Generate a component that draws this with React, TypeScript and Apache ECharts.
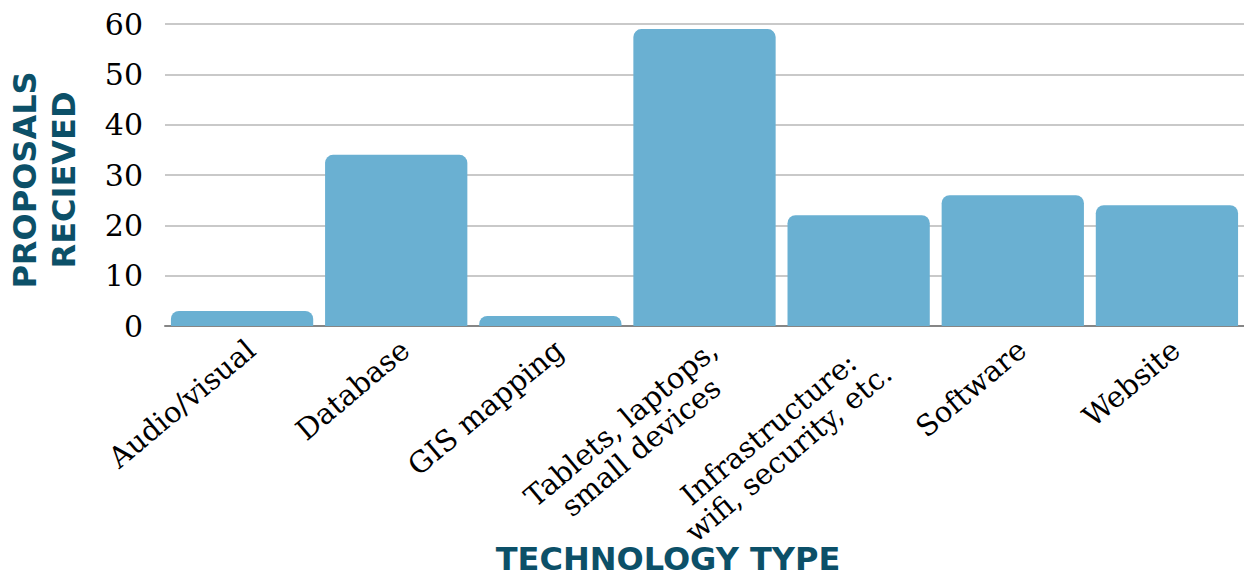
import React, { useEffect, useRef } from "react";
import * as echarts from "echarts";

const categories = [
  "Audio/visual",
  "Database",
  "GIS mapping",
  "Tablets, laptops,\nsmall devices",
  "Infrastructure:\nwifi, security, etc.",
  "Software",
  "Website",
];
const proposals = [3, 34, 2, 59, 22, 26, 24];
const yTitle = "PROPOSALS\nRECIEVED";
const xTitle = "TECHNOLOGY TYPE";

const LABEL_FONT_SIZE = 29;
const LABEL_LINE_HEIGHT = 31;
const LABEL_FONT_FAMILY = "DejaVu Serif";

function measure(text: string): number {
  const c = document.createElement("canvas");
  const ctx = c.getContext("2d");
  if (!ctx) return text.length * LABEL_FONT_SIZE * 0.6;
  ctx.font = `${LABEL_FONT_SIZE}px '${LABEL_FONT_FAMILY}'`;
  return ctx.measureText(text).width;
}

export default function App() {
  const ref = useRef<HTMLDivElement>(null);
  useEffect(() => {
    if (!ref.current) return;
    const rich: Record<string, any> = {};
    categories.forEach((cat, i) => {
      const lines = cat.split("\n");
      const w = Math.ceil(Math.max(...lines.map(measure))) + 2;
      rich["c" + i] = {
        width: w,
        align: "center",
        fontFamily: LABEL_FONT_FAMILY,
        fontSize: LABEL_FONT_SIZE,
        lineHeight: LABEL_LINE_HEIGHT,
        color: "#000",
      };
    });
    const chart = echarts.init(ref.current, undefined, { renderer: "svg" });
    chart.setOption({
      animation: false,
      grid: { left: 165, top: 24, width: 1084, height: 302, containLabel: false },
      xAxis: {
        type: "category",
        data: categories,
        axisLine: { show: true, lineStyle: { color: "#868686", width: 2 } },
        axisTick: { show: false },
        axisLabel: {
          interval: 0,
          rotate: 40,
          margin: 7,
          align: "right",
          verticalAlign: "top",
          color: "#000",
          fontFamily: LABEL_FONT_FAMILY,
          fontSize: LABEL_FONT_SIZE,
          lineHeight: LABEL_LINE_HEIGHT,
          formatter: (value: string, index: number) =>
            value
              .split("\n")
              .map((l) => `{c${index}|${l}}`)
              .join("\n"),
          rich,
        },
      },
      yAxis: {
        type: "value",
        min: 0,
        max: 60,
        interval: 10,
        axisLine: { show: false },
        axisTick: { show: false },
        splitLine: { lineStyle: { color: "#c9c9c9", width: 2 } },
        axisLabel: {
          margin: 22,
          color: "#000",
          fontFamily: "DejaVu Serif",
          fontSize: 30,
        },
      },
      series: [
        {
          type: "bar",
          data: proposals,
          barCategoryGap: "7.7%",
          itemStyle: { color: "#6ab0d2", borderRadius: [8, 8, 0, 0] },
        },
      ],
      graphic: [
        {
          type: "text",
          x: 44,
          y: 180,
          rotation: Math.PI / 2,
          style: {
            text: yTitle,
            fill: "#0c5068",
            font: "bold 32px 'DejaVu Sans'",
            lineHeight: 39,
            align: "center",
            verticalAlign: "middle",
          },
        },
        {
          type: "text",
          x: 668,
          y: 559,
          style: {
            text: xTitle,
            fill: "#0c5068",
            font: "bold 32px 'DejaVu Sans'",
            lineHeight: 32,
            align: "center",
            verticalAlign: "middle",
          },
        },
      ],
    });
    return () => chart.dispose();
  }, []);
  return (
    <div
      ref={ref}
      style={{ position: "fixed", left: 0, top: 0, width: 1244, height: 578, background: "#fff" }}
    />
  );
}
